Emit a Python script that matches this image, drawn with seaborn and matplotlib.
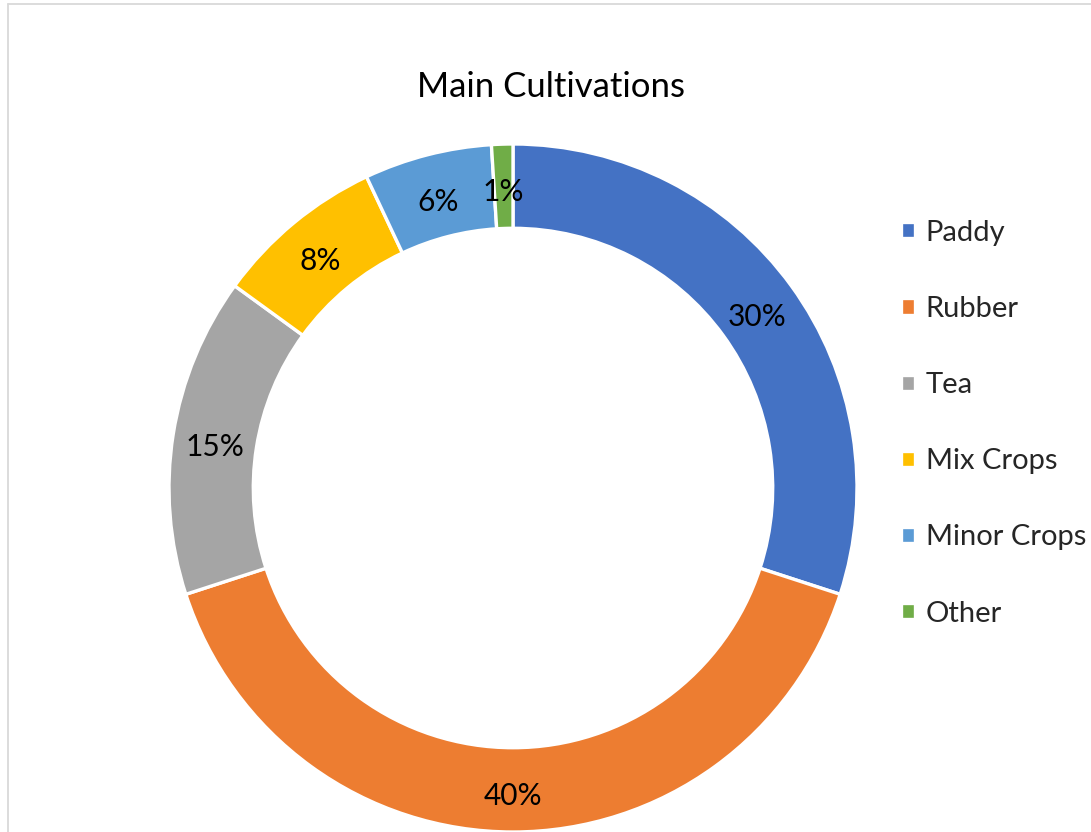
import matplotlib
matplotlib.use("Agg")
import matplotlib.pyplot as plt
from matplotlib.lines import Line2D
import seaborn as sns

# data
crops = ["Paddy", "Rubber", "Tea", "Mix Crops", "Minor Crops", "Other"]
shares = [30, 40, 15, 8, 6, 1]
crop_colors = ["#4472C4", "#ED7D31", "#A5A5A5", "#FFC000", "#5B9BD5", "#70AD47"]
chart_title = "Main Cultivations"

sns.set_theme(style="white")
plt.rcParams["font.family"] = ["Lato", "DejaVu Sans"]
palette = sns.color_palette(crop_colors)

W, H = 1091, 832
fig = plt.figure(figsize=(W / 100, H / 100), dpi=100)
fig.patch.set_facecolor("white")

# donut centred at (513, 488) px, outer radius 344 px
cx, cy, r = 513, 488, 344
ax = fig.add_axes([(cx - r) / W, (H - cy - r) / H, 2 * r / W, 2 * r / H])
wedges, texts, autotexts = ax.pie(
    shares,
    colors=palette,
    startangle=90,
    counterclock=False,
    radius=1.0,
    autopct="%.0f%%",
    pctdistance=0.8775,
    wedgeprops=dict(width=0.245, edgecolor="white", linewidth=2.4),
    textprops=dict(fontsize=21.5, color="#000000"),
)
# Excel centres the label box a touch lower than matplotlib does
for t in autotexts:
    x, y = t.get_position()
    t.set_position((x, y - 6 / r))
for w in wedges:
    w.set_clip_on(False)
ax.set_xlim(-1, 1)
ax.set_ylim(-1, 1)
ax.set_aspect("equal")
ax.axis("off")

fig.text(551 / W, 1 - 87 / H, chart_title, ha="center", va="center",
         fontsize=25, color="#000000")

fig.legend(wedges, crops, loc="upper left",
           bbox_to_anchor=(889 / W, 1 - 208 / H),
           frameon=False, fontsize=21, handlelength=0.48, handleheight=0.48,
           handletextpad=0.38, labelspacing=1.72, borderaxespad=0)

# light chart-area border (cropped at right and bottom)
bx, by = 7.5 / W, 1 - 3.5 / H
fig.add_artist(Line2D([bx, bx], [0, by], transform=fig.transFigure,
                      color="#d9d9d9", linewidth=1.3))
fig.add_artist(Line2D([bx, 1], [by, by], transform=fig.transFigure,
                      color="#d9d9d9", linewidth=1.3))

fig.savefig("out.png", dpi=100, facecolor="white")
plt.close(fig)
